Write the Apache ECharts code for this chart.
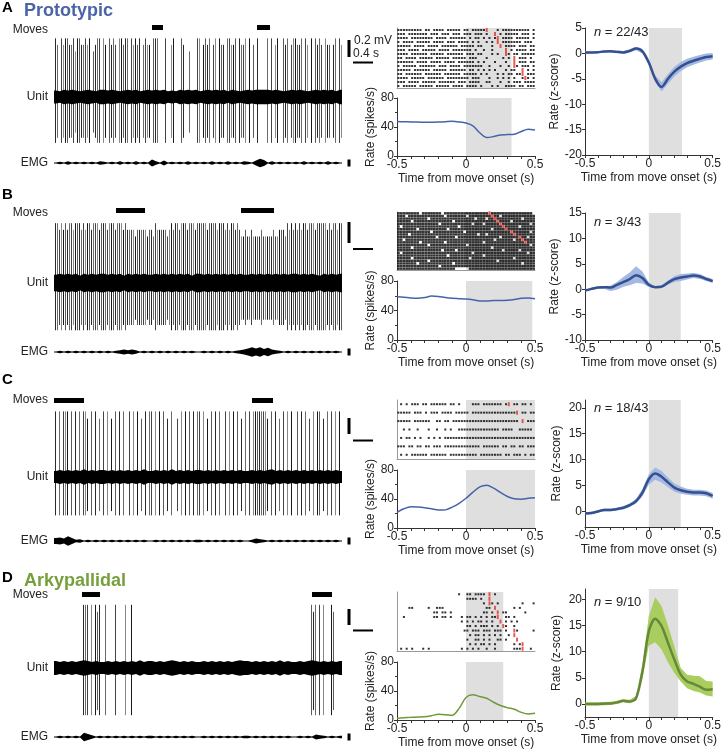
<!DOCTYPE html>
<html>
<head>
<meta charset="utf-8">
<title>Prototypic and arkypallidal units</title>
<script src="https://cdn.jsdelivr.net/npm/echarts@6.0.0/dist/echarts.min.js"></script>
<style>
html,body{margin:0;padding:0;background:#fff;}
#chart{width:724px;height:750px;}
</style>
</head>
<body>
<div id="chart"></div>
<script>
// ===================== DATA =====================
// time points (s from move onset) for rate and z-score curves
const tPts = [-0.5,-0.45,-0.4,-0.35,-0.3,-0.25,-0.2,-0.15,-0.1,-0.05,0,0.05,0.1,0.15,0.2,0.25,0.3,0.35,0.4,0.45,0.5];

// example unit firing rate (spikes/s)
const rateA = [47.5,47.3,47,46.8,46.6,46.5,46.8,47.3,47.8,47,45.5,41.6,32,25.5,26.8,29,29.5,30,33.8,37,36];
const rateB = [58.8,58,57,56.5,57.5,59.5,59,57.5,56.5,56,55.5,54.5,53,53,53.5,53.5,54,55,56.5,57,56];
const rateC = [21.5,26.5,29.3,28.8,27.9,26.5,24.7,25,28.8,34,41,49.4,56.7,59,54.9,49,43.4,40.2,39.8,41,41.6];
const rateD = [2.5,3.2,3.7,4.2,4.6,6,7.8,7.4,6.5,16,31,34.7,32.4,30,24.5,20,17,14.8,10.6,8.3,9.2];

// population z-scored rate: mean and band (low / high)
const zMeanA = [0.2,0.2,0.25,0.35,0.4,0.3,0.2,0.5,0.95,0.4,-1.8,-5.0,-6.6,-5.0,-3.6,-2.6,-1.9,-1.45,-1.05,-0.7,-0.55];
const zLowA  = [0,0,0.05,0.15,0.2,0.05,-0.05,0.2,0.6,0,-2.3,-5.7,-7.5,-5.95,-4.55,-3.5,-2.75,-2.25,-1.8,-1.4,-1.2];
const zHighA = [0.4,0.4,0.45,0.55,0.6,0.55,0.45,0.8,1.3,0.8,-1.3,-4.3,-5.7,-4.05,-2.65,-1.7,-1.05,-0.65,-0.3,0,0.1];

const zMeanB = [-0.26,0.07,0.33,0.4,0.33,0.86,1.4,2.0,2.76,2.2,0.86,0.4,0.5,1.3,2.0,2.3,2.5,2.7,2.5,2.0,1.6];
const zLowB  = [-0.45,-0.15,0.1,0.1,-0.35,-0.1,0.5,0.8,1.2,1.1,0.45,0.2,0.2,0.9,1.4,1.6,1.9,2.2,2.0,1.6,1.2];
const zHighB = [-0.1,0.3,0.55,0.65,0.7,1.4,2.4,3.3,4.5,3.5,1.3,0.6,0.8,1.7,2.6,3.0,3.1,3.2,3.0,2.4,2.0];

const zMeanC = [-0.4,-0.3,0,0.3,0.3,0.45,0.7,1.2,2.0,3.65,6.2,7.3,6.7,5.6,4.6,4.1,3.8,3.65,3.65,3.5,3.0];
const zLowC  = [-0.65,-0.55,-0.25,0.05,0.05,0.2,0.4,0.85,1.55,2.95,5.2,6.1,5.6,4.65,3.8,3.4,3.2,3.1,3.1,2.95,2.45];
const zHighC = [-0.15,-0.05,0.25,0.55,0.55,0.7,1.0,1.55,2.45,4.35,7.2,8.5,7.8,6.55,5.4,4.8,4.4,4.2,4.2,4.05,3.55];

const zMeanD = [0,0,0,0.05,0.1,0.3,0.6,0.45,1.1,6.2,13.9,16.3,14.9,11.7,8.5,5.6,4.3,3.85,3.3,2.7,2.8];
const zLowD  = [-0.3,-0.3,-0.3,-0.25,-0.2,0,0.3,0.15,0.7,4.9,11.2,11.8,10.4,8.0,5.9,4.3,3.0,2.5,2.2,1.6,1.4];
const zHighD = [0.3,0.3,0.3,0.35,0.4,0.6,0.9,0.8,1.5,7.6,16.8,20.4,18.7,15.0,11.0,6.9,5.6,5.4,5.3,4.4,4.3];

// end of the shaded move window (s)
const rasterMoveEnd = {A:0.33, B:0.48, C:0.5, D:0.27};
const zMoveEnd = {A:0.26, B:0.25, C:0.25, D:0.23};
const nLabels = {A:'22/43', B:'3/43', C:'18/43', D:'9/10'};

// movement epochs on the raw trace (s)
const movesA = [[1.96,2.18],[4.06,4.32]];
const movesB = [[1.24,1.82],[3.74,4.40]];
const movesC = [[0.0,0.6],[3.96,4.38]];
const movesD = [[0.56,0.92],[5.16,5.56]];

// raw unit trace, 40-ms bins: digit = relative spike amplitude (0 = none)
const spikesA = "980989988979 988989078990 980989809989 909898908988 099900090089 000980070009 908989089098 809988909889 090809000090 908900989089 988909809098 980988089098";
const spikesB = "998989899899 989899899989 998999899989 888878888878 879888887898 998999899989 999989999899 989899898778 778777787777 787788879898 989899899989 999989899899";
const spikesC = "909099909090 909980909080 909080909090 090909080909 909090908090 080909090909 909080909090 090909090809 090999999980 909080909090 090909080909 908090909090";
const spikesD = "000000000000 009990909890 090000900009 009000000000 000000000000 000000000000 000000000000 000000000000 000000000000 000000000000 000000009890 909000980000";
// spike peak (up) and trough (down) amplitude, mV
const spikeAmp = {A:[0.69,0.54], B:[0.57,0.45], C:[0.82,0.48], D:[0.79,0.59]};

// background noise envelope, 80-ms bins (digit x noise unit, mV)
const noiseA = "879898789879 989878989789 898978798989 789898979878 989999898789 898789898979";
const noiseB = "898989798989 989897989898 898989898979 989898989898 898989898989 989898798989";
const noiseC = "787878797878 878787878797 787879787878 878787878787 787878978787 878787878787";
const noiseD = "878787898787 787878787978 878789878787 787878787898 878787879787 787898787878";
const noiseUnit = {A:0.0095, B:0.0098, C:0.0108, D:0.0108};

// EMG envelope, 80-ms bins (digit = half-width units)
const emgA = "121312121213 212131213121 631412121312 121312131213 214751312121 213121213121";
const emgB = "121212121212 121234343121 212121212121 121212121234 686857432121 212121212121";
const emgC = "564852312121 212121212121 121212121212 212121212121 124321212121 212121212121";
const emgD = "121212175312 121212121212 212121212121 121212121212 212121212121 121214321212";

// rasters: one string per trial, 20-ms bins from -0.5 s: 1 = spike, 2 = move-end marker
const rasterA = [
"1111111110 1101111011 1110110111 1120001011 1111111101",
"1110111111 1011101110 1110111011 1010020101 1111011101",
"1111011111 1110111101 1111101011 0101012011 1101111101",
"1011110111 1101111011 1011110101 0010102011 1111101110",
"1111101111 0111101111 1101111101 1000100201 1110111011",
"1110111101 1111011110 1111111010 0100100002 0101111011",
"1111011111 1011111011 1111011101 1000101002 1011011111",
"1101111011 1110111110 1111101110 0010000010 1020111010",
"1111110111 1011110111 1011111101 0100010001 0020111011",
"1011111011 1111011101 1110111111 1001000100 1021011101",
"1111101111 1101111101 1111101101 0101010001 0110020101",
"1101111110 1111110111 1110111110 1010001010 1101120111",
"1111011111 0111111011 1111110111 0001001010 1010012101",
"1110111101 1111011111 1011101111 0011000100 1011101111",
"1011111011 1110111110 1111011110 1000101001 1110110111"
];
const rasterB = [
"1111111101 1111110111 1111111111 1112111111 1111111110",
"1110111111 1111111011 1111101111 1111211011 1111111111",
"1111111111 1011111111 1111111101 1101121111 1111101111",
"1111101111 1111111111 0111111111 1111112111 1011111111",
"1111111111 1111101111 1111111011 1011111211 1111111101",
"1011111111 1111111111 1101111111 1111111121 1111011111",
"1111111011 1111111101 1111111111 1111011112 1111111111",
"1111111111 1101111111 1111011111 1111111111 1211111101",
"1111011111 1111111111 1111111110 1101111111 1121111111",
"1111111111 1111011111 1011111111 1111111011 1111211011",
"1101111111 1111111111 1111111111 1111101111 1101121111",
"1111111101 1111111011 1111111111 1011111111 1111112111",
"1111111111 1011111111 1111101111 1111111111 1111111101",
"1111101111 1111111111 1111111111 1111011111 1111111111",
"1111111111 1111110111 1011111111 1111111101 1111011111",
"1011111111 1111111111 1111111011 1111111111 1111111011",
"1111111111 1111111101 1111111111 1011111111 1111111111",
"1111101111 1111111111 1111110111 1111111111 1101111111",
"1111111111 1011111111 1111111111 1111110111 1111111111",
"1111111011 1111111111 0111111111 1111111111 1111101111",
"1111111111 1111101111 1111111111 1111111111 1111111111",
"1111111111 1111111111 1000001111 1111111111 1111111111"
];
const rasterC = [
"0101011101 1011111101 1010000111 0111111101 2011011010",
"1111101110 1011101111 0111110111 1111111111 1112011011",
"1111101111 1100110110 1111111111 1111111111 1111020111",
"0010100100 0100100101 0011111111 1111111011 1100111110",
"0101101010 0101010111 1111111111 1111111111 1111111111",
"1110110110 1101110111 1111111111 0111111011 0110110111",
"0101011111 1011111101 1111111110 1111111101 1011101011"
];
const rasterD = [
"0000000000 0000000000 0010011011 1102010000 0000000000",
"0000000000 0000000000 0000011110 1002000000 0000000000",
"0000000000 0000000000 0000000000 0102101000 0000010001",
"0000110000 0100111000 0000000000 0011020000 0010100000",
"0000000000 0001101101 0000000000 0110102011 0000001000",
"0010000000 0001101101 0001011010 1010112001 1010000000",
"0000000000 0000000000 0001010101 1010100201 0101000000",
"0000000000 0000000000 0000011010 1110101021 0010000000",
"0000000000 0000000000 0000110111 0111011101 0021000001",
"0000000000 0000000000 0000001011 0101010100 1020000000",
"0000000000 0000000000 0000010011 0101001101 0002000000",
"0000000000 0000000000 0000001010 1101010000 0010120000",
"0101010001 0100000000 0001010101 0010010000 0011120010"
];

// scale bars
const SCALE_MV = 0.2, SCALE_S = 0.4;

// ===================== ENCODING CONSTANTS =====================
const SPIKE_BIN = 0.04, ENV_BIN = 0.08, RASTER_BIN = 0.02, TRACE_SPAN = 6.4;

// ===================== STYLE / LAYOUT =====================
const FONT = '"Liberation Sans", Arial, Helvetica, sans-serif';
const BLUE = {rate:'#4564a8', zLine:'#34508f', zBand:'#a3b8e3', title:'#4b64a7'};
const GREEN = {rate:'#6f9a3b', zLine:'#66883a', zBand:'#a9cd5f', title:'#76a03c'};
const SHADE = '#dfdfdf';
const AX = '#333';
const SPIKE_GRAYS = ['#2a2a2a','#6a6a6a','#444444','#888888','#1a1a1a','#5a5a5a'];

const rows = [
  {k:'A', title:'Prototypic', pal:BLUE, moves:movesA, spikes:spikesA, noise:noiseA, emg:emgA, raster:rasterA, dot:[2,2],
   rate:rateA, zMean:zMeanA, zLow:zLowA, zHigh:zHighA, zMin:-20, zMax:5, zCustom:null,
   L:{y:8, movesTop:25, movesLbl:30, unitC:97, ppm:85, emgC:163, ras:[28,88], rate:[98,156], z:[28,155], sbV:0.47, sbH:0.406, nY:32}},
  {k:'B', title:null, pal:BLUE, moves:movesB, spikes:spikesB, noise:noiseB, emg:emgB, raster:rasterB, dot:[2.7,2.4],
   rate:rateB, zMean:zMeanB, zLow:zLowB, zHigh:zHighB, zMin:-10, zMax:15, zCustom:null,
   L:{y:195, movesTop:208, movesLbl:213, unitC:283, ppm:105, emgC:352, ras:[212,270], rate:[281,340], z:[213,340], sbV:0.381, sbH:0.324, nY:222}},
  {k:'C', title:null, pal:BLUE, moves:movesC, spikes:spikesC, noise:noiseC, emg:emgC, raster:rasterC, dot:[2,2],
   rate:rateC, zMean:zMeanC, zLow:zLowC, zHigh:zHighC, zMin:-3, zMax:21.5, zCustom:[0,5,10,15,20],
   L:{y:380, movesTop:398, movesLbl:400, unitC:477, ppm:80, emgC:541, ras:[400,459], rate:[470,528], z:[400,527], sbV:0.5375, sbH:0.456, nY:408}},
  {k:'D', title:'Arkypallidal', pal:GREEN, moves:movesD, spikes:spikesD, noise:noiseD, emg:emgD, raster:rasterD, dot:[2,2],
   rate:rateD, zMean:zMeanD, zLow:zLowD, zHigh:zHighD, zMin:-2.5, zMax:22, zCustom:[0,5,10,15,20],
   L:{y:578, movesTop:592, movesLbl:595, unitC:668, ppm:80, emgC:737, ras:[592,651], rate:[662,720], z:[589,717], sbV:0.5375, sbH:0.469, nY:602}}
];

// ===================== HELPERS =====================
const bins = s => s.replace(/\s+/g,'').split('');
const zip = (xs, ys) => xs.map((x,i)=>[x, ys[i]]);

const option = {animation:false, backgroundColor:'#fff', textStyle:{fontFamily:FONT},
  grid:[], xAxis:[], yAxis:[], series:[], graphic:[]};

function addGrid(g, x, y){
  const gi = option.grid.length;
  option.grid.push(Object.assign({containLabel:false}, g));
  option.xAxis.push(Object.assign({gridIndex:gi, type:'value'}, x));
  option.yAxis.push(Object.assign({gridIndex:gi, type:'value'}, y));
  return gi;
}
const hid = (min,max)=>({min, max, show:false});

function moveRect(p, api){
  const a = api.coord([api.value(0), 1]);
  const b = api.coord([api.value(1), 0]);
  return {type:'rect', shape:{x:a[0], y:a[1], width:b[0]-a[0], height:b[1]-a[1]}, style:{fill:'#000'}};
}
function spikeData(str, amp){
  const out = [];
  bins(str).forEach((c,i)=>{ const d = Number(c); if(d>0) out.push([(i+0.5)*SPIKE_BIN, amp[0]*d/9, amp[1]*d/9]); });
  return out;
}
function spikeItem(p, api){
  const t = api.value(0);
  const a = api.coord([t, api.value(1)]);
  const b = api.coord([t, -api.value(2)]);
  const x = Math.round(a[0]) + 0.5;
  return {type:'line', shape:{x1:x, y1:a[1], x2:x, y2:b[1]},
    style:{stroke:SPIKE_GRAYS[p.dataIndex % SPIKE_GRAYS.length], lineWidth:1}};
}
function envelopeItem(str, unit){
  const v = bins(str).map(Number);
  return function(p, api){
    const top = [], bot = [];
    const n = v.length;
    top.push(api.coord([0, v[0]*unit])); bot.push(api.coord([0, -v[0]*unit]));
    v.forEach((d,i)=>{ const t=(i+0.5)*ENV_BIN; top.push(api.coord([t, d*unit])); bot.push(api.coord([t, -d*unit])); });
    top.push(api.coord([n*ENV_BIN, v[n-1]*unit])); bot.push(api.coord([n*ENV_BIN, -v[n-1]*unit]));
    return {type:'polygon', shape:{points: top.concat(bot.reverse())}, style:{fill:'#000'}};
  };
}
function bandItem(low, high, color){
  return function(p, api){
    const top = tPts.map((t,i)=>api.coord([t, high[i]]));
    const bot = tPts.map((t,i)=>api.coord([t, low[i]])).reverse();
    return {type:'polygon', shape:{points: top.concat(bot)}, style:{fill:color}};
  };
}
function shadeSeries(gi, end){
  return {type:'custom', xAxisIndex:gi, yAxisIndex:gi, z:1, silent:true, data:[[0, end]],
    renderItem:(p, api)=>{
      const cs = p.coordSys;
      const a = api.coord([api.value(0), 0]);
      const b = api.coord([api.value(1), 0]);
      return {type:'rect', shape:{x:a[0], y:cs.y, width:b[0]-a[0], height:cs.height}, style:{fill:SHADE}};
    }};
}
function barLine(gi, pts, w){
  return {type:'line', xAxisIndex:gi, yAxisIndex:gi, data:pts, symbol:'none', silent:true, z:5,
    lineStyle:{color:'#000', width:w, cap:'butt'}};
}
function rasterPoints(rs){
  const black = [], red = [];
  rs.forEach((s,r)=>{ bins(s).forEach((c,i)=>{ const t=-0.5+(i+0.5)*RASTER_BIN;
    if(c==='1') black.push([t, r+1]); else if(c==='2') red.push([t, r+1]); }); });
  return {black, red};
}
const tickStyle = {color:AX, width:1};
function timeAxis(){
  return {min:-0.5, max:0.5, interval:0.5,
    axisLine:{show:true, onZero:false, lineStyle:tickStyle},
    axisTick:{show:true, length:3, lineStyle:tickStyle},
    minorTick:{show:true, splitNumber:5, length:3, lineStyle:tickStyle},
    axisLabel:{fontSize:12, color:'#222', margin:3, fontFamily:FONT},
    splitLine:{show:false},
    name:'Time from move onset (s)', nameLocation:'middle', nameGap:17,
    nameTextStyle:{fontSize:12, color:'#222', fontFamily:FONT}};
}
function txt(x, y, text, opt){
  option.graphic.push({type:'text', x, y, silent:true, style:Object.assign({
    text, fill:'#222', font:'12px ' + FONT, textAlign:'left', textVerticalAlign:'middle', align:'left', verticalAlign:'middle'}, opt||{})});
}

// ===================== BUILD =====================
rows.forEach(r=>{
  const L = r.L;
  txt(2, L.y, r.k, {font:'bold 15px ' + FONT, fill:'#000'});
  if (r.title) txt(24, L.y + 3, r.title, {font:'bold 18px ' + FONT, fill:r.pal.title});
  txt(48, L.movesLbl, 'Moves', {textAlign:'right', align:'right'});
  txt(48, L.unitC, 'Unit', {textAlign:'right', align:'right'});
  txt(48, L.emgC, 'EMG', {textAlign:'right', align:'right'});

  // moves bars
  let gi = addGrid({left:54, width:320, top:L.movesTop, height:5}, hid(0,TRACE_SPAN), hid(0,1));
  option.series.push({type:'custom', xAxisIndex:gi, yAxisIndex:gi, data:r.moves, renderItem:moveRect, silent:true, encode:{x:[0,1]}});

  // unit trace
  const U = 0.95;
  gi = addGrid({left:54, width:320, top:L.unitC - U*L.ppm, height:2*U*L.ppm}, hid(0,TRACE_SPAN), hid(-U,U));
  option.series.push({type:'custom', xAxisIndex:gi, yAxisIndex:gi, data:spikeData(r.spikes, spikeAmp[r.k]),
    renderItem:spikeItem, silent:true, z:2, encode:{x:0, y:1}});
  option.series.push({type:'custom', xAxisIndex:gi, yAxisIndex:gi, data:[[0,0]],
    renderItem:envelopeItem(r.noise, noiseUnit[r.k]), silent:true, z:3});
  option.series.push(barLine(gi, [[5.9, L.sbV],[5.9, L.sbV + SCALE_MV]], 3));
  option.series.push(barLine(gi, [[5.98, L.sbH],[5.98 + SCALE_S, L.sbH]], 2));

  // EMG
  gi = addGrid({left:54, width:320, top:L.emgC - 10, height:20}, hid(0,TRACE_SPAN), hid(-10,10));
  option.series.push({type:'custom', xAxisIndex:gi, yAxisIndex:gi, data:[[0,0]],
    renderItem:envelopeItem(r.emg, 0.6), silent:true, z:3});
  option.series.push(barLine(gi, [[5.9,-3.5],[5.9,3.5]], 3));

  // raster
  const nT = r.raster.length;
  gi = addGrid({left:397, width:138, top:L.ras[0], height:L.ras[1]-L.ras[0]},
    {min:-0.5, max:0.5, axisLine:{show:true, onZero:false, lineStyle:{color:'#9a9a9a'}}, axisTick:{show:false}, axisLabel:{show:false}, splitLine:{show:false}},
    {min:0.5, max:nT+0.5, inverse:true, axisLine:{show:true, onZero:false, lineStyle:{color:'#9a9a9a'}}, axisTick:{show:false}, axisLabel:{show:false}, splitLine:{show:false}});
  option.series.push(shadeSeries(gi, rasterMoveEnd[r.k]));
  const rp = rasterPoints(r.raster);
  option.series.push({type:'scatter', xAxisIndex:gi, yAxisIndex:gi, data:rp.black, symbol:'rect', symbolSize:r.dot,
    itemStyle:{color:'#000'}, silent:true, z:3});
  option.series.push({type:'scatter', xAxisIndex:gi, yAxisIndex:gi, data:rp.red, symbol:'rect', symbolSize:[2,4],
    itemStyle:{color:'#e2332c'}, silent:true, z:4});

  // rate
  gi = addGrid({left:397, width:138, top:L.rate[0], height:L.rate[1]-L.rate[0]}, timeAxis(),
    {min:0, max:80, interval:40,
     axisLine:{show:true, onZero:false, lineStyle:tickStyle}, axisTick:{show:true, length:3, lineStyle:tickStyle},
     minorTick:{show:true, splitNumber:2, length:2, lineStyle:tickStyle},
     axisLabel:{fontSize:12, color:'#222', margin:3}, splitLine:{show:false},
     name:'Rate (spikes/s)', nameLocation:'middle', nameGap:20, nameTextStyle:{fontSize:12, color:'#222'}});
  option.series.push(shadeSeries(gi, rasterMoveEnd[r.k]));
  option.series.push({type:'line', xAxisIndex:gi, yAxisIndex:gi, data:zip(tPts, r.rate), smooth:0.3, symbol:'none',
    lineStyle:{color:r.pal.rate, width:1.5}, silent:true, z:3});

  // z-score
  const yz = {min:r.zMin, max:r.zMax,
     axisLine:{show:true, onZero:false, lineStyle:tickStyle}, axisTick:{show:true, length:3, lineStyle:tickStyle},
     axisLabel:{fontSize:12, color:'#222', margin:3}, splitLine:{show:false},
     name:'Rate (z-score)', nameLocation:'middle', nameGap:22, nameTextStyle:{fontSize:12, color:'#222'}};
  if (r.zCustom) { yz.axisLabel.customValues = r.zCustom; yz.axisTick.customValues = r.zCustom; }
  else { yz.interval = 5; }
  gi = addGrid({left:585, width:129, top:L.z[0], height:L.z[1]-L.z[0]}, timeAxis(), yz);
  option.series.push(shadeSeries(gi, zMoveEnd[r.k]));
  option.series.push({type:'custom', xAxisIndex:gi, yAxisIndex:gi, data:[[0,0]], silent:true, z:2,
    renderItem:bandItem(r.zLow, r.zHigh, r.pal.zBand)});
  option.series.push({type:'line', xAxisIndex:gi, yAxisIndex:gi, data:zip(tPts, r.zMean), smooth:0.3, symbol:'none',
    lineStyle:{color:r.pal.zLine, width:2.5}, silent:true, z:3});
  option.graphic.push({type:'text', x:594, y:L.nY, silent:true, z:10, style:{
    text:'{i|n} = ' + nLabels[r.k], fill:'#222', font:'13px ' + FONT, textVerticalAlign:'middle', verticalAlign:'middle',
    rich:{i:{fontStyle:'italic', fontSize:13, fontFamily:FONT, fill:'#222'}}}});
});

// scale-bar texts (row A)
txt(354, 41, '0.2 mV', {font:'12px ' + FONT, fill:'#222'});
txt(353, 54, '0.4 s', {font:'12px ' + FONT, fill:'#222'});

const chart = echarts.init(document.getElementById('chart'), null, {renderer:'canvas'});
chart.setOption(option);
</script>
</body>
</html>
